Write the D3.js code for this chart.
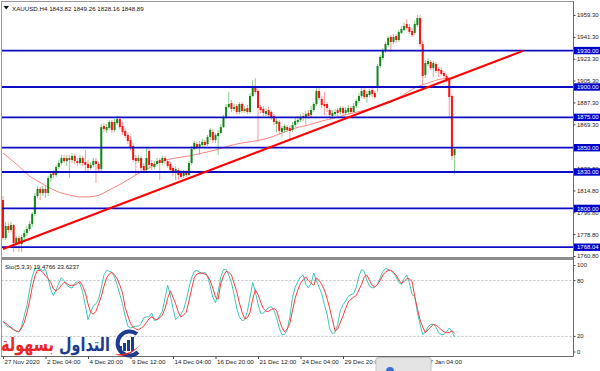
<!DOCTYPE html>
<html><head><meta charset="utf-8">
<script src="https://cdn.jsdelivr.net/npm/d3@7"></script>
<style>html,body{margin:0;padding:0;background:#fff;overflow:hidden}</style>
</head><body>
<svg id="c" width="600" height="371"></svg>
<script>
// ---------- DATA ----------
const symbolTitle = "XAUUSD,H4  1843.82 1849.26 1828.16 1848.89";
const stochTitle = "Sto(5,3,3) 19.4766 23.6237";

const opens = [
1806.9,1775.6,1785.5,1782.2,1786.3,1771.5,1775.6,1770.7,1776.4,1779.7,
1783.0,1787.1,1795.4,1810.2,1816.0,1812.7,1816.0,1812.7,1825.0,1830.0,
1827.5,1834.1,1837.4,1841.5,1839.0,1841.5,1839.9,1843.2,1839.0,1837.4,
1841.5,1838.2,1836.6,1833.3,1835.8,1839.0,1836.6,1832.5,1867.9,1864.6,
1866.2,1871.2,1864.6,1870.3,1873.6,1867.9,1863.8,1860.5,1856.3,1851.4,
1841.5,1839.0,1841.5,1834.9,1831.6,1847.3,1837.4,1834.1,1836.6,1839.9,
1837.4,1841.5,1839.0,1836.6,1833.3,1829.2,1831.6,1830.0,1826.7,1830.0,
1827.5,1837.4,1848.9,1853.0,1850.6,1852.2,1854.7,1853.0,1858.8,1862.9,
1856.3,1859.6,1862.1,1867.0,1874.5,1883.5,1886.8,1881.9,1884.3,1879.4,
1886.0,1880.2,1882.7,1879.4,1892.6,1900.8,1896.7,1883.5,1881.9,1877.7,
1881.0,1879.4,1876.1,1869.5,1871.2,1862.9,1864.6,1867.0,1866.2,1864.6,
1868.7,1871.2,1872.8,1876.1,1874.5,1878.6,1876.9,1881.0,1886.0,1896.7,
1890.1,1886.0,1886.0,1881.0,1876.1,1877.7,1881.0,1879.4,1882.7,1878.6,
1879.4,1882.7,1879.4,1884.3,1888.5,1892.6,1897.5,1891.7,1893.4,1897.5,
1895.0,1899.2,1917.3,1923.9,1929.7,1934.6,1941.2,1937.1,1942.0,1938.7,
1944.5,1946.9,1951.9,1949.4,1946.1,1944.5,1951.1,1956.8,1935.4,1909.9,
1918.9,1920.6,1915.6,1918.9,1914.8,1914.0,1911.5,1909.1,1905.8,1892.6,
1843.82];
const highs = [
1810.2,1788.8,1788.0,1788.8,1787.1,1777.3,1777.3,1778.1,1782.2,1785.5,
1789.6,1797.0,1812.7,1818.5,1817.6,1818.5,1818.5,1826.7,1830.8,1831.6,
1835.8,1839.9,1844.0,1844.0,1844.0,1844.0,1845.6,1844.8,1841.5,1844.0,
1843.2,1848.1,1839.9,1838.2,1841.5,1841.5,1838.2,1869.5,1870.3,1869.5,
1872.8,1872.8,1873.6,1876.1,1875.3,1871.2,1866.2,1862.9,1859.6,1853.9,
1844.0,1844.0,1843.2,1837.4,1849.8,1848.9,1839.9,1839.0,1841.5,1841.5,
1843.2,1843.2,1840.7,1838.2,1834.9,1834.9,1833.3,1831.6,1831.6,1831.6,
1839.0,1851.4,1855.5,1854.7,1855.5,1857.2,1856.3,1860.5,1866.2,1865.4,
1862.1,1864.6,1869.5,1876.9,1886.0,1895.9,1889.3,1886.0,1886.0,1887.6,
1887.6,1884.3,1885.2,1895.0,1905.8,1907.4,1898.3,1885.2,1884.3,1882.7,
1883.5,1881.0,1877.7,1874.5,1872.8,1867.9,1869.5,1868.7,1867.9,1871.2,
1874.5,1876.1,1877.7,1878.6,1880.2,1881.0,1884.3,1887.6,1899.2,1899.2,
1892.6,1895.9,1887.6,1882.7,1881.0,1881.9,1882.7,1884.3,1884.3,1883.5,
1885.2,1884.3,1886.8,1890.1,1895.0,1899.2,1899.2,1896.7,1898.3,1899.2,
1896.7,1918.9,1926.4,1932.1,1937.1,1942.0,1942.8,1943.7,1943.7,1946.9,
1950.2,1952.7,1956.0,1951.9,1948.6,1954.4,1959.3,1959.3,1937.9,1922.2,
1923.9,1922.2,1921.4,1920.6,1916.5,1915.6,1913.2,1910.7,1908.2,1894.2,
1849.26];
const lows = [
1774.0,1774.0,1779.7,1780.6,1764.1,1769.0,1764.1,1764.1,1774.0,1777.3,
1781.4,1784.7,1793.7,1808.6,1806.9,1810.2,1808.6,1810.2,1821.7,1825.0,
1825.9,1832.5,1835.8,1837.4,1834.9,1825.0,1837.4,1836.6,1834.9,1835.8,
1834.9,1829.2,1830.8,1831.6,1834.1,1820.9,1830.0,1830.8,1862.9,1862.1,
1864.6,1862.1,1862.9,1868.7,1864.6,1860.5,1858.0,1853.0,1848.1,1838.2,
1827.5,1837.4,1830.0,1829.2,1830.0,1833.3,1831.6,1832.5,1834.9,1823.4,
1835.8,1836.6,1833.3,1830.0,1826.7,1823.4,1823.4,1824.2,1825.0,1825.9,
1826.7,1835.8,1848.1,1848.9,1844.0,1850.6,1849.8,1851.4,1856.3,1853.9,
1853.9,1844.0,1861.3,1866.2,1873.6,1882.7,1879.4,1880.2,1877.7,1877.7,
1878.6,1878.6,1877.7,1877.7,1891.7,1894.2,1854.7,1878.6,1876.1,1876.1,
1874.5,1872.8,1868.7,1862.9,1861.3,1858.8,1862.1,1862.9,1856.3,1862.9,
1867.0,1869.5,1871.2,1872.0,1868.7,1873.6,1875.3,1879.4,1884.3,1889.3,
1882.7,1876.9,1879.4,1874.5,1874.5,1876.1,1876.1,1876.9,1876.1,1876.9,
1877.7,1877.7,1878.6,1882.7,1886.8,1890.9,1890.1,1886.8,1891.7,1891.7,
1890.1,1895.9,1915.6,1922.2,1928.0,1932.9,1928.8,1935.4,1936.2,1937.1,
1943.7,1946.1,1946.9,1943.7,1941.2,1942.8,1949.4,1932.9,1901.6,1907.4,
1917.3,1914.0,1908.2,1911.5,1908.2,1909.1,1907.4,1904.1,1875.3,1839.9,
1828.16];
const closes = [
1775.6,1785.5,1782.2,1786.3,1771.5,1775.6,1770.7,1776.4,1779.7,1783.0,
1787.1,1795.4,1810.2,1816.0,1812.7,1816.0,1812.7,1825.0,1828.3,1827.5,
1834.1,1837.4,1841.5,1839.0,1841.5,1839.9,1843.2,1839.0,1837.4,1841.5,
1837.4,1835.8,1833.3,1835.8,1839.0,1836.6,1832.5,1867.0,1865.4,1867.0,
1871.2,1864.6,1871.2,1873.6,1867.0,1862.9,1859.6,1855.5,1850.6,1839.9,
1839.0,1841.5,1833.3,1831.6,1841.5,1835.8,1834.9,1836.6,1839.0,1837.4,
1841.5,1839.0,1834.9,1831.6,1829.2,1832.5,1827.5,1825.9,1830.0,1827.5,
1837.4,1848.9,1853.9,1850.6,1853.0,1854.7,1852.2,1858.8,1864.6,1856.3,
1860.5,1862.1,1867.0,1874.5,1883.5,1886.0,1881.9,1883.5,1879.4,1886.0,
1880.2,1881.9,1879.4,1892.6,1900.8,1895.9,1882.7,1881.0,1878.6,1880.2,
1876.9,1875.3,1871.2,1872.0,1863.8,1866.2,1867.9,1864.6,1863.8,1868.7,
1872.0,1872.8,1875.3,1874.5,1877.7,1876.1,1881.0,1886.0,1896.7,1890.9,
1885.2,1884.3,1882.7,1876.9,1878.6,1879.4,1878.6,1882.7,1878.6,1881.0,
1882.7,1879.4,1884.3,1888.5,1892.6,1896.7,1891.7,1894.2,1896.7,1894.2,
1891.7,1917.3,1924.7,1930.5,1935.4,1940.4,1937.1,1941.2,1938.7,1945.3,
1947.8,1950.2,1948.6,1945.3,1942.8,1951.9,1956.8,1935.4,1909.1,1919.8,
1921.4,1915.6,1919.8,1913.2,1913.2,1910.7,1909.1,1905.8,1891.7,1843.2,
1848.89];

// moving average (sampled every 5 bars)
const maIdx = [0,5,10,15,20,25,30,35,40,45,50,55,60,65,70,75,80,85,90,95,100,105,110,115,120,125,130,135,140,145,150,155,160,165,170];
const maVal = [1845.6,1836.6,1826.7,1820.1,1814.3,1811.0,1809.4,1810.2,1815.2,1820.9,1827.5,1833.3,1839.0,1841.5,1843.2,1845.6,1848.1,1851.4,1853.9,1855.5,1858.0,1862.1,1866.2,1868.7,1872.0,1874.5,1877.7,1880.2,1883.5,1886.8,1892.6,1899.2,1903.3,1906.6,1907.4];

// stochastic %K and %D
const kVals = [
36,33,30,30,28,25,25,31,42,53,
70,84,93,93,92,91,92,82,70,64,
70,77,83,80,75,73,72,77,79,76,
68,53,38,46,53,55,60,72,86,91,
90,89,84,75,65,55,42,31,29,30,
31,31,34,40,41,41,45,37,38,42,
47,61,75,64,50,38,41,44,49,59,
72,83,90,91,89,88,89,85,74,62,
56,68,84,92,92,86,78,65,50,41,
37,38,47,62,78,68,55,45,45,48,
51,52,48,40,29,22,22,27,41,62,
73,79,84,86,76,72,77,88,80,73,
66,54,44,28,23,24,33,48,54,58,
63,65,66,73,85,92,90,80,74,72,
73,76,83,90,93,92,91,88,84,78,
76,82,86,78,65,63,46,33,22,25,
30,33,33,30,24,22,22,25,29,25,
19.4766];
const dVals = [
36,34,32,29,27,26,25,29,35,45,
58,73,85,91,91,89,85,82,78,71,
69,71,75,78,77,75,75,75,77,79,
74,67,55,46,44,47,55,63,74,83,
87,89,86,82,75,67,51,42,34,30,
28,27,29,31,35,39,41,39,38,40,
43,50,61,69,62,55,46,41,43,46,
58,71,83,87,88,88,87,85,80,72,
62,60,77,85,90,89,86,77,68,56,
46,39,40,46,60,70,65,57,50,47,
47,49,50,48,38,30,25,28,34,48,
61,70,77,81,84,80,77,75,83,80,
76,70,61,50,38,26,28,35,42,50,
57,60,62,64,70,76,84,86,80,75,
73,76,80,86,89,91,91,89,86,81,
77,79,82,82,79,63,50,38,30,24,
27,30,33,32,30,27,25,24,24,26,
23.6237];
const stochLevels = [20, 80];
const stochTicks = [0, 20, 80, 100];

// horizontal levels
const levels = [1930, 1900, 1875, 1850, 1830, 1800, 1768.04];
// trend line anchors (bar index, price)
const trendIdx = [0, 195.8];
const trendPrice = [1766.6, 1929.7];

// axis ticks
const priceTicks = [1959.30,1941.30,1923.30,1905.30,1887.30,1869.30,1832.80,1814.80,1796.80,1778.80,1760.80];
const timeTickIdx = [0,16,32,48,64,80,96,112,128,144,160];
const timeTickLabels = ["27 Nov 2020","2 Dec 04:00","4 Dec 20:00","9 Dec 12:00","14 Dec 04:00","16 Dec 20:00","21 Dec 12:00","24 Dec 04:00","29 Dec 20:00","4 Jan 08:00","7 Jan 04:00"];

// watermark words (logical order)
const brandWords = ["التداول", "بسهولة"];
const brandColors = ["#1c3d8f", "#e8262a"];

// ---------- DRAW ----------
const svg = d3.select("#c");
const FONT = "'Liberation Sans', Arial, sans-serif";
const plotL = 1.5, plotR = 573.5, mainTop = 1.5, mainBot = 257, stTop = 260, stBot = 356.5;

const x = d3.scaleLinear().domain([0, 160]).range([3, 428]);
const y = d3.scaleLinear().domain([1760.8, 1959.3]).range([256, 15]);
const ys = d3.scaleLinear().domain([0, 100]).range([355, 262]);

svg.append("rect").attr("width", 600).attr("height", 371).attr("fill", "#fff");

const defs = svg.append("defs");
defs.append("clipPath").attr("id", "cm").append("rect")
  .attr("x", plotL).attr("y", mainTop).attr("width", plotR - plotL).attr("height", mainBot - mainTop);
defs.append("clipPath").attr("id", "cs").append("rect")
  .attr("x", plotL).attr("y", stTop).attr("width", plotR - plotL).attr("height", stBot - stTop);

// ---- main panel ----
const gm = svg.append("g").attr("clip-path", "url(#cm)");

// MA
const maData = maIdx.map((d, i) => [d, maVal[i]]);
gm.append("path").datum(maData)
  .attr("d", d3.line().x(d => x(d[0])).y(d => y(d[1])).curve(d3.curveMonotoneX))
  .attr("fill", "none").attr("stroke", "#ff7f7f").attr("stroke-width", 1);

// candles
const candles = opens.map((o, i) => ({i, o, h: highs[i], l: lows[i], c: closes[i]}));
const cg = gm.append("g");
cg.selectAll("line.w").data(candles).join("line")
  .attr("x1", d => x(d.i)).attr("x2", d => x(d.i))
  .attr("y1", d => y(d.h)).attr("y2", d => y(d.l))
  .attr("stroke", d => d.c >= d.o ? "#7cc87c" : "#ff8c8c").attr("stroke-width", 0.9);
cg.selectAll("rect.b").data(candles).join("rect")
  .attr("x", d => x(d.i) - 1).attr("width", 2)
  .attr("y", d => y(Math.max(d.o, d.c)))
  .attr("height", d => Math.max(0.8, Math.abs(y(d.o) - y(d.c))))
  .attr("fill", d => d.c >= d.o ? "#13861a" : "#ff1010");

// horizontal levels
gm.selectAll("line.lv").data(levels).join("line")
  .attr("x1", plotL).attr("x2", plotR)
  .attr("y1", d => y(d)).attr("y2", d => y(d))
  .attr("stroke", "#0c0cc4").attr("stroke-width", 1.8);

// trend line
gm.append("line")
  .attr("x1", x(trendIdx[0])).attr("y1", y(trendPrice[0]))
  .attr("x2", x(trendIdx[1])).attr("y2", y(trendPrice[1]))
  .attr("stroke", "#ff0000").attr("stroke-width", 2);

// ---- stoch panel ----
const gs = svg.append("g").attr("clip-path", "url(#cs)");
gs.selectAll("line.sl").data(stochLevels).join("line")
  .attr("x1", plotL).attr("x2", plotR)
  .attr("y1", d => ys(d)).attr("y2", d => ys(d))
  .attr("stroke", "#b8b8b8").attr("stroke-width", 1).attr("stroke-dasharray", "2,2");
const sLine = vals => d3.line().x((d, i) => x(i)).y(d => ys(d))(vals);
gs.append("path").attr("d", sLine(kVals)).attr("fill", "none").attr("stroke", "#3cc6b6").attr("stroke-width", 1);
gs.append("path").attr("d", sLine(dVals)).attr("fill", "none").attr("stroke", "#ff3b3b").attr("stroke-width", 1);

// ---- frame ----
svg.append("rect").attr("x", 1).attr("y", 257).attr("width", 572.5).attr("height", 3).attr("fill", "#8c8c8c");
svg.append("line").attr("x1", plotL).attr("x2", plotL).attr("y1", 1).attr("y2", stBot).attr("stroke", "#9a9a9a");
svg.append("line").attr("x1", 1).attr("x2", plotR).attr("y1", mainTop).attr("y2", mainTop).attr("stroke", "#9a9a9a");
svg.append("line").attr("x1", 1).attr("x2", plotR).attr("y1", stBot).attr("y2", stBot).attr("stroke", "#6a6a6a");
svg.append("line").attr("x1", plotR).attr("x2", plotR).attr("y1", 1).attr("y2", stBot).attr("stroke", "#6a6a6a");

// ---- price axis ----
const pa = svg.append("g").attr("transform", `translate(${plotR},0)`)
  .call(d3.axisRight(y).tickValues(priceTicks).tickFormat(d => d.toFixed(2)).tickSize(2).tickPadding(1.5));
pa.select(".domain").remove();
pa.selectAll("text").attr("font-family", FONT).attr("font-size", 6).attr("fill", "#222");
pa.selectAll("line").attr("stroke", "#444");

// level labels
const lb = svg.append("g");
lb.selectAll("rect").data(levels).join("rect")
  .attr("x", plotR + 0.5).attr("y", d => y(d) - 3.7).attr("width", 26.5).attr("height", 7.4)
  .attr("fill", "#0000c8");
lb.selectAll("text").data(levels).join("text")
  .attr("x", plotR + 3.5).attr("y", d => y(d)).attr("dy", "0.35em")
  .attr("font-family", FONT).attr("font-size", 6).attr("fill", "#fff")
  .text(d => d.toFixed(2));

// ---- stoch axis ----
const sa = svg.append("g").attr("transform", `translate(${plotR},0)`)
  .call(d3.axisRight(ys).tickValues(stochTicks).tickFormat(d3.format("d")).tickSize(2).tickPadding(1.5));
sa.select(".domain").remove();
sa.selectAll(".tick").attr("transform", d => `translate(0,${Math.max(265.5, Math.min(352, ys(d)))})`);
sa.selectAll("text").attr("font-family", FONT).attr("font-size", 6).attr("fill", "#222");
sa.selectAll("line").attr("stroke", "#444");

// ---- time axis ----
const ta = svg.append("g").attr("transform", `translate(0,${stBot})`)
  .call(d3.axisBottom(x).tickValues(timeTickIdx).tickFormat((d, i) => timeTickLabels[i]).tickSize(2.5).tickPadding(1));
ta.select(".domain").remove();
ta.selectAll("text").attr("text-anchor", "start").attr("x", 1)
  .attr("font-family", FONT).attr("font-size", 6.2).attr("fill", "#222");
ta.selectAll("line").attr("stroke", "#444");

// ---- titles ----
svg.append("path").attr("d", "M3.5,6 L9,6 L6.25,9.5 Z").attr("fill", "#111");
svg.append("text").attr("x", 12).attr("y", 11).attr("font-family", FONT).attr("font-size", 6.2)
  .attr("fill", "#111").text(symbolTitle);
svg.append("text").attr("x", 5).attr("y", 269).attr("font-family", FONT).attr("font-size", 6.1)
  .attr("fill", "#111").text(stochTitle);

// ---- watermark ----
const wm = svg.append("g");
const bt = wm.append("text").attr("x", 1).attr("y", 351)
  .attr("textLength", 109).attr("lengthAdjust", "spacingAndGlyphs")
  .attr("font-family", "'DejaVu Sans', sans-serif").attr("font-weight", "bold").attr("font-size", 19);
bt.append("tspan").attr("fill", brandColors[0]).text(brandWords[0]);
bt.append("tspan").attr("fill", brandColors[1]).text(" " + brandWords[1]);
const ic = wm.append("g");
ic.append("path").attr("d", "M137,334 A12,12 0 1 0 138,352")
  .attr("fill", "none").attr("stroke", "#1c3d8f").attr("stroke-width", 4);
[[119,346,5],[123,343,8],[127,340,11],[131,337,14]].forEach(b => {
  ic.append("rect").attr("x", b[0]).attr("y", b[1]).attr("width", 3).attr("height", b[2]).attr("fill", "#1c3d8f");
});
ic.append("path").attr("d", "M114,354 Q128,360 141,344 Q130,356 114,354 Z").attr("fill", "#e8262a");

// bottom gray tab
svg.append("rect").attr("x", 376).attr("y", 357.5).attr("width", 55).attr("height", 16).attr("rx", 2)
  .attr("fill", "#e4e4e4").attr("stroke", "#c4c4c4");
svg.append("circle").attr("cx", 390).attr("cy", 371).attr("r", 4).attr("fill", "#3b6fd6");
</script>
</body></html>
